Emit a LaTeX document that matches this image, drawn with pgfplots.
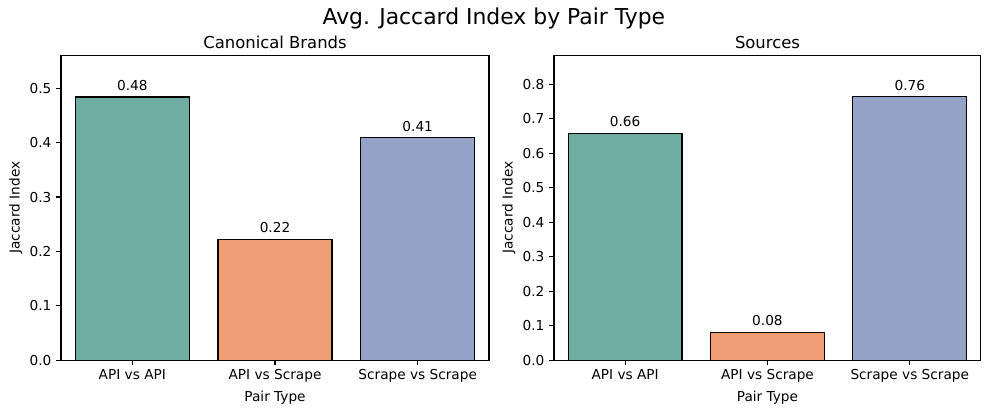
\documentclass[border=0pt]{standalone}
\usepackage{pgfplots}
\pgfplotsset{compat=1.18}
\usepackage{fontspec}
\setmainfont{DejaVu Sans}
\definecolor{c1}{RGB}{112,174,164}
\definecolor{c2}{RGB}{240,158,116}
\definecolor{c3}{RGB}{149,164,198}
\begin{document}
\begin{tikzpicture}
\path[use as bounding box] (0,0) rectangle (723pt,302pt);
\pgfplotsset{
 myax/.style={
  scale only axis, height=223pt,
  anchor=south west,
  xmin=-0.5, xmax=2.5, ymin=0,
  xtick={0,1,2}, xticklabels={API vs API, API vs Scrape, Scrape vs Scrape},
  xtick pos=left, ytick pos=left,
  tick align=outside, major tick length=3.5pt,
  tick style={black, line width=0.8pt},
  axis line style={line width=0.8pt},
  ticklabel style={font=\fontsize{10}{12}\selectfont},
  /pgf/number format/assume math mode=true,
  yticklabel style={/pgf/number format/fixed, /pgf/number format/fixed zerofill, /pgf/number format/precision=1},
  ylabel={Jaccard Index}, xlabel={Pair Type},
  label style={font=\fontsize{10}{12}\selectfont},
  xlabel style={yshift=1pt},
  ylabel style={yshift=-1.5pt},
  title style={font=\fontsize{12}{14}\selectfont, yshift=-5pt},
  ybar, bar width=0.8, bar shift=0pt,
  nodes near coords,
  nodes near coords style={font=\fontsize{10}{12}\selectfont, yshift=1pt, /pgf/number format/fixed, /pgf/number format/fixed zerofill, /pgf/number format/precision=2, /pgf/number format/assume math mode=true},
  every axis plot/.append style={draw=black, line width=0.9pt},
 }
}
\begin{axis}[myax, at={(44.6pt,38.7pt)}, width=312.9pt, ymax=0.561,
  ytick={0,0.1,0.2,0.3,0.4,0.5}, title={Canonical Brands}]
\addplot[fill=c1] coordinates {(0,0.484)};
\addplot[fill=c2] coordinates {(1,0.222)};
\addplot[fill=c3] coordinates {(2,0.409)};
\end{axis}
\begin{axis}[myax, at={(405pt,38.7pt)}, width=312.1pt, ymax=0.885,
  ytick={0,0.1,0.2,0.3,0.4,0.5,0.6,0.7,0.8}, title={Sources}]
\addplot[fill=c1] coordinates {(0,0.657)};
\addplot[fill=c2] coordinates {(1,0.080)};
\addplot[fill=c3] coordinates {(2,0.764)};
\end{axis}
\node at (361pt,288.8pt) {\fontsize{16}{19}\selectfont Avg. Jaccard Index by Pair Type};
\end{tikzpicture}
\end{document}
